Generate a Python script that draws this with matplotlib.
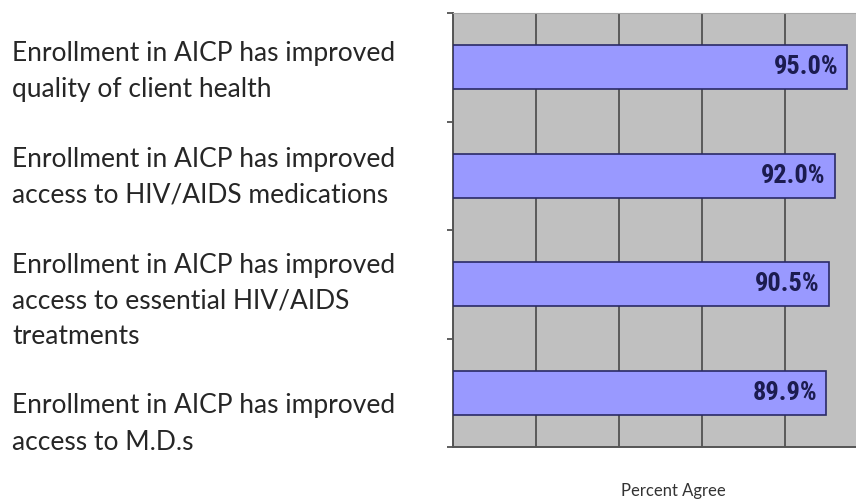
import matplotlib
matplotlib.use("Agg")
import matplotlib.pyplot as plt
import numpy as np

# data, top to bottom as shown
statements = [
    "Enrollment in AICP has improved\nquality of client health",
    "Enrollment in AICP has improved\naccess to HIV/AIDS medications",
    "Enrollment in AICP has improved\naccess to essential HIV/AIDS\ntreatments",
    "Enrollment in AICP has improved\naccess to M.D.s",
]
percent_agree = [95.0, 92.0, 90.5, 89.9]
x_label = "Percent Agree"

BAR_COLOR = "#9999ff"
EDGE_COLOR = "#2a2a66"
BG_COLOR = "#c0c0c0"
TEXT_COLOR = "#262626"
NARROW = ["Liberation Sans Narrow", "Arial Narrow", "Roboto Condensed",
          "PT Sans Narrow", "Archivo Narrow", "Saira Condensed"]

fig = plt.figure(figsize=(8.56, 5.0), dpi=100)

# plot area runs a little past the right edge like the original slide
ax = fig.add_axes([453 / 856, 1 - 447 / 500, 415 / 856, 434 / 500])
ax.set_facecolor(BG_COLOR)

y = np.arange(len(percent_agree))
ax.barh(y, percent_agree, height=0.41, color=BAR_COLOR,
        edgecolor=EDGE_COLOR, linewidth=1.2, zorder=3)
for yi, v in zip(y, percent_agree):
    ax.text(v - 2.2, yi, f"{v:.1f}%", ha="right", va="center",
            fontsize=19, fontweight="bold", color="#1c1c50",
            family=NARROW, zorder=4)

ax.set_xlim(0, 100)
ax.set_ylim(3.5, -0.5)
ax.set_xticks([0, 20, 40, 60, 80, 100])
ax.set_xticklabels([])
ax.tick_params(axis="x", length=0)
ax.grid(axis="x", color="#5a5a5a", linewidth=1.4, zorder=1)
ax.set_yticks(np.arange(-0.5, len(percent_agree) + 0.5, 1.0))
ax.set_yticklabels([])
ax.tick_params(axis="y", length=4, width=1.2, color="#444444", direction="out")
ax.set_axisbelow(True)
for side in ["left", "bottom"]:
    ax.spines[side].set_color("#555555")
    ax.spines[side].set_linewidth(1.4)
ax.spines["top"].set_color("#a8a8a8")
ax.spines["right"].set_visible(False)

fig.text(673 / 856, 1 - 491 / 500, x_label, ha="center", va="center",
         fontsize=12, color="#333333", family="Lato")

# statement text on the left side of the slide
centers = [71, 177, 301, 424]
for c, s in zip(centers, statements):
    fig.text(12 / 856, 1 - c / 500, s, ha="left", va="center",
             fontsize=19, color=TEXT_COLOR, family="Lato", linespacing=1.55)

fig.savefig("out.png", dpi=100)
